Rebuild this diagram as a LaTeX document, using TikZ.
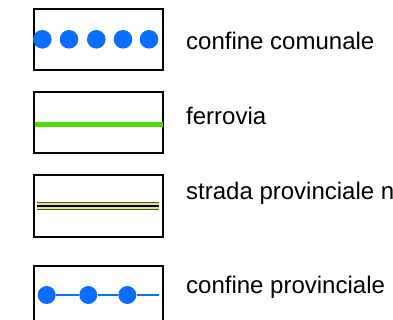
\documentclass[tikz,border=0pt]{standalone}
\usepackage{fontspec}
\setmainfont{Liberation Sans}
\definecolor{dotblue}{RGB}{10,110,255}
\definecolor{railgreen}{RGB}{76,220,0}
\definecolor{roadyellow}{RGB}{235,225,110}

\begin{document}
\begin{tikzpicture}[x=1pt,y=-1pt]
		\tikzstyle{every node}+=[inner sep=0pt]
		\tikzstyle{legbox}=[draw=black, line width=2pt, minimum width=129pt, minimum height=61pt]
		\tikzstyle{legtext}=[anchor=base west, font=\fontsize{24}{28}\selectfont]
		\tikzstyle{bigdot}=[circle, fill=dotblue, minimum size=18.6pt]
		\tikzstyle{smalldot}=[circle, fill=dotblue, minimum size=18pt]
		\useasboundingbox (0,0) rectangle (393,320);
		\clip (0,0) rectangle (393,320);
		% confine comunale
		\node [legbox] (box1) at (98.8,39.7) {};
		\foreach \i/\x in {1/42.3,2/69,3/96.3,4/123,5/149}
			\node [bigdot] (dot\i) at (\x,39.3) {};
		\node [legtext] (txt1) at (186,50) {confine comunale};
		% ferrovia
		\node [legbox] (box2) at (98.8,123) {};
		\draw [railgreen, line width=5pt] (35,124.3) -- (162.7,124.3);
		\node [legtext] (txt2) at (186,125) {ferrovia};
		% strada provinciale
		\node [legbox] (box3) at (98.8,206) {};
		\draw [black!70, line width=8.3pt] (37.3,205.8) -- (159.3,205.8);
		\draw [roadyellow, line width=5.6pt] (37.3,205.8) -- (159.3,205.8);
		\draw [black, line width=2.2pt] (37.3,205.8) -- (159.3,205.8);
		\node [legtext] (txt3) at (186,200) {strada provinciale n};
		% confine provinciale
		\node [legbox] (box4) at (98.8,296.5) {};
		\coordinate (lineend) at (159,295);
		\node [smalldot] (pdot1) at (46.7,295) {};
		\node [smalldot] (pdot2) at (88.3,295) {};
		\node [smalldot] (pdot3) at (127.3,295) {};
		\draw [dotblue, line width=2pt] (pdot1) -- (pdot2) -- (pdot3) -- (lineend);
		\node [legtext] (txt4) at (186,293) {confine provinciale};
	\end{tikzpicture}
\end{document}
